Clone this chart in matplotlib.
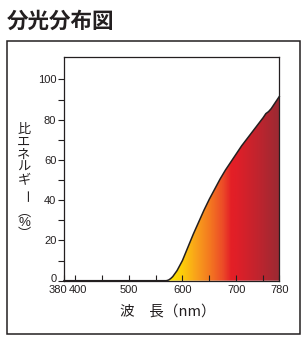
import numpy as np
import matplotlib
matplotlib.use("Agg")
import matplotlib.pyplot as plt
from matplotlib.colors import LinearSegmentedColormap
from matplotlib.patches import Rectangle
from matplotlib.transforms import ScaledTranslation

# データ
wavelength = [380, 560, 570, 574, 578, 582, 586, 590, 595, 600, 610, 620, 630, 640,
              650, 660, 670, 680, 690, 700, 710, 720, 730, 740, 750, 755, 760,
              765, 770, 775, 780]
energy = [0, 0, 0, 0.3, 1, 2, 3.5, 5, 7.5, 10, 16.5, 23, 29, 35,
          40.5, 45.5, 50.5, 55, 59, 63, 67, 70.5, 74, 77.5, 81, 83, 84,
          85.5, 87.5, 89.5, 91.5]

x_ticks = [380, 400, 450, 500, 550, 600, 650, 700, 750, 780]
x_labels = ['380', '400', '', '500', '', '600', '', '700', '', '780']
y_ticks = [0, 20, 40, 60, 80, 100]

# グラデーションの色（波長ごと）
grad_nm = [575, 600, 625, 650, 675, 690, 700, 740, 780]
grad_col = ['#ffe800', '#fdcc0b', '#f9a11b', '#f47920', '#ec4a28',
            '#e41f26', '#e01f28', '#c0242e', '#9a2a33']

ink = '#231f20'
jp = ['Noto Sans CJK JP', 'DejaVu Sans']
num = ['Liberation Sans Narrow', 'Liberation Sans', 'DejaVu Sans']

fig = plt.figure(figsize=(3.08, 3.47), dpi=100)
ax = fig.add_axes([0.2078, 0.1911, 0.699, 0.6438])

# 外枠
fig.add_artist(Rectangle((0.0227, 0.0375), 0.951, 0.845, transform=fig.transFigure,
                         fill=False, lw=1.1, ec=ink))

# タイトル
fig.text(7 / 308, 1 - 21 / 347, '分光分布図', fontsize=15.5, fontweight='bold',
         va='center', ha='left', family=jp, color=ink)

# グラデーション塗り
lo, hi = grad_nm[0], grad_nm[-1]
cmap = LinearSegmentedColormap.from_list(
    'spec', [((n - lo) / (hi - lo), c) for n, c in zip(grad_nm, grad_col)])
poly = ax.fill_between(wavelength, energy, 0, color='none', lw=0)
img = ax.imshow(np.linspace(0, 1, 300).reshape(1, -1), cmap=cmap, aspect='auto',
                extent=[lo, hi, 0, 100], origin='lower', zorder=1)
img.set_clip_path(poly.get_paths()[0], transform=ax.transData)

ax.plot(wavelength, energy, color=ink, lw=1.1, zorder=3, clip_on=False)

ax.set_xlim(380, 780)
ax.set_ylim(0, 111)

ax.set_xticks(x_ticks)
ax.set_xticklabels(x_labels, family=num, fontsize=8, color=ink)
ax.set_yticks(y_ticks)
ax.set_yticks(range(10, 100, 20), minor=True)
ax.set_yticklabels([str(v) for v in y_ticks], family=num, fontsize=8, color=ink)

ax.tick_params(axis='x', direction='in', length=4, width=0.8, pad=3, color=ink)
ax.tick_params(axis='y', which='both', direction='out', length=4, width=0.8, pad=1.5,
               color=ink)
for s in ax.spines.values():
    s.set_linewidth(0.9)
    s.set_color(ink)

# 380 と 400 のラベルを少しずらす、0 は少し上へ
xl = ax.get_xticklabels()
xl[0].set_transform(xl[0].get_transform() + ScaledTranslation(-0.065, 0, fig.dpi_scale_trans))
xl[1].set_transform(xl[1].get_transform() + ScaledTranslation(0.035, 0, fig.dpi_scale_trans))
yl = ax.get_yticklabels()
yl[0].set_transform(yl[0].get_transform() + ScaledTranslation(0, 0.03, fig.dpi_scale_trans))

# 縦書きのY軸ラベル
cx = 24 / 308
fs = 9.5
for ch, yp in zip(['比', 'エ', 'ネ', 'ル', 'ギ'], [129, 142, 155, 167, 181]):
    fig.text(cx, 1 - yp / 347, ch, fontsize=fs, ha='center', va='center', family=jp, color=ink)
fig.text(cx, 1 - 197 / 347, 'ー', fontsize=fs, ha='center', va='center', family=jp,
         color=ink, rotation=-90, rotation_mode='anchor')
fig.text(cx, 1 - 212 / 347, '︵', fontsize=fs, ha='center', va='center', family=jp, color=ink)
fig.text(cx, 1 - 223 / 347, '%', fontsize=fs, ha='center', va='center', family=num, color=ink)
fig.text(cx, 1 - 234 / 347, '︶', fontsize=fs, ha='center', va='center', family=jp, color=ink)

# X軸ラベル
fig.text(167.5 / 308, 1 - 312 / 347, '波　長（nm）', fontsize=10.5, ha='center', va='center',
         family=jp, color=ink)

fig.savefig('out.png', dpi=100)
